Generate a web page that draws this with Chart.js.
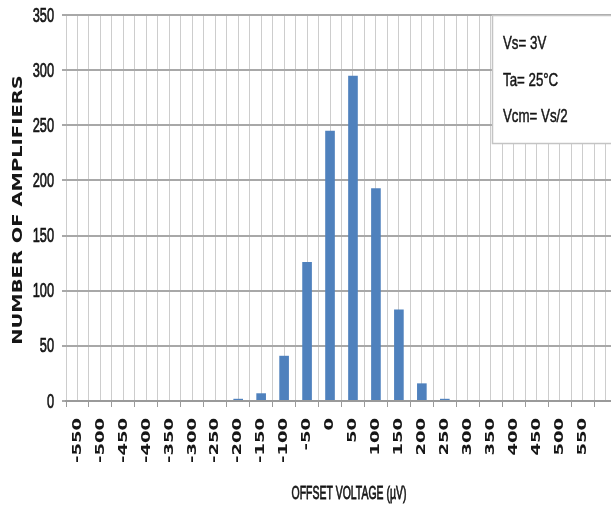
<!DOCTYPE html>
<html>
<head>
<meta charset="utf-8">
<script src="https://cdn.jsdelivr.net/npm/chart.js@4/dist/chart.umd.min.js"></script>
<style>
  html, body { margin: 0; padding: 0; background: #fff; overflow: hidden; }
  canvas { display: block; }
</style>
</head>
<body>
<canvas id="c" width="618" height="506"></canvas>
<script>
/* ---- data ---- */
const offsets = ['-550','-500','-450','-400','-350','-300','-250','-200','-150','-100','-50','0',
                 '50','100','150','200','250','300','350','400','450','500','550',''];
const counts  = [0, 0, 0, 0, 0, 0, 0, 2, 7, 41, 126, 245,
                 295, 193, 83, 16, 2, 0, 0, 0, 0, 0, 0, null];
const yTicks  = [0, 50, 100, 150, 200, 250, 300, 350];
const notes   = ['Vs= 3V', 'Ta= 25°C', 'Vcm= Vs/2'];

const BLUE = '#4f81bd';
const INK  = '#161616';
const SQUEEZE = 0.7;   // the source picture is squashed sideways

/* squeezed upright text, thickened a little */
function narrowText(ctx, txt, x, y, sx, weight) {
  ctx.save();
  ctx.translate(x, y);
  ctx.scale(sx, 1);
  ctx.fillText(txt, 0, 0);
  if (weight) { ctx.lineWidth = weight; ctx.strokeText(txt, 0, 0); }
  ctx.restore();
}

/* tick labels, axis titles, note box */
const textLayer = {
  id: 'textLayer',
  afterDraw(chart) {
    const ctx  = chart.ctx;
    const area = chart.chartArea;
    const xs   = chart.scales.x;
    const ys   = chart.scales.y;

    ctx.save();
    ctx.fillStyle = INK;
    ctx.strokeStyle = INK;

    /* x tick labels, rotated, reading upward */
    ctx.font = 'bold 18px "DejaVu Sans"';
    ctx.textAlign = 'right';
    ctx.textBaseline = 'middle';
    xs.ticks.forEach((t, i) => {
      const lab = offsets[i];
      if (!lab) return;
      ctx.save();
      ctx.translate(xs.getPixelForTick(i), area.bottom + 17);
      ctx.rotate(-Math.PI / 2);
      ctx.scale(1, SQUEEZE);
      ctx.fillText(lab, 0, 0);
      ctx.restore();
    });

    /* y tick labels */
    ctx.font = '20px "Liberation Sans"';
    ctx.textAlign = 'right';
    ctx.textBaseline = 'middle';
    yTicks.forEach(v => narrowText(ctx, String(v), 54, ys.getPixelForValue(v) + 1, 0.64, 0.7));

    /* y title */
    ctx.save();
    ctx.translate(18, (area.top + area.bottom) / 2 + 2);
    ctx.rotate(-Math.PI / 2);
    ctx.scale(1, SQUEEZE);
    ctx.font = 'bold 19.5px "DejaVu Sans"';
    ctx.textAlign = 'center';
    ctx.textBaseline = 'middle';
    ctx.fillText('NUMBER OF AMPLIFIERS', 0, 0);
    ctx.restore();

    /* x title */
    ctx.font = '19px "Liberation Sans"';
    ctx.textAlign = 'center';
    ctx.textBaseline = 'middle';
    narrowText(ctx, 'OFFSET VOLTAGE (µV)', 349, 494, 0.55, 0.8);

    /* note box */
    ctx.fillStyle = '#fff';
    ctx.strokeStyle = '#c4c4c4';
    ctx.lineWidth = 1.5;
    ctx.fillRect(492, 15, 140, 128);
    ctx.strokeRect(492.5, 15.5, 140, 128);
    ctx.fillStyle = INK;
    ctx.strokeStyle = INK;
    ctx.font = '19px "Liberation Sans"';
    ctx.textAlign = 'left';
    ctx.textBaseline = 'alphabetic';
    notes.forEach((t, i) => narrowText(ctx, t, 503, 49 + i * 36.5, 0.7, 0.5));

    ctx.restore();
  }
};

new Chart(document.getElementById('c'), {
  type: 'bar',
  data: {
    labels: offsets,
    datasets: [{
      data: counts,
      backgroundColor: BLUE,
      borderWidth: 0,
      barPercentage: 0.42,
      categoryPercentage: 1,
      xAxisID: 'x',
    }],
  },
  options: {
    responsive: false,
    animation: false,
    layout: { padding: { top: 15, right: 1, left: 0, bottom: 0 } },
    plugins: { legend: { display: false }, tooltip: { enabled: false } },
    scales: {
      x: {
        type: 'category',
        offset: true,
        grid: { offset: true, color: '#cdcdcd', lineWidth: 1, tickLength: 6, tickColor: '#9a9a9a' },
        border: { display: true, color: '#9a9a9a', width: 2 },
        ticks: { display: false, autoSkip: false },
        afterFit(s) { s.height = 105; },
      },
      xg: {
        type: 'category',
        labels: offsets,
        position: 'bottom',
        offset: true,
        grid: { offset: false, color: '#cdcdcd', lineWidth: 1, drawTicks: false },
        border: { display: false },
        ticks: { display: false },
        afterFit(s) { s.height = 0; },
      },
      y: {
        min: 0, max: 350,
        afterBuildTicks(s) { s.ticks = yTicks.map(v => ({ value: v })); },
        grid: { color: '#a8a8a8', lineWidth: 2, tickLength: 4 },
        border: { display: false },
        ticks: { display: false },
        afterFit(s) { s.width = 66; },
      },
    },
  },
  plugins: [textLayer],
});
</script>
</body>
</html>
